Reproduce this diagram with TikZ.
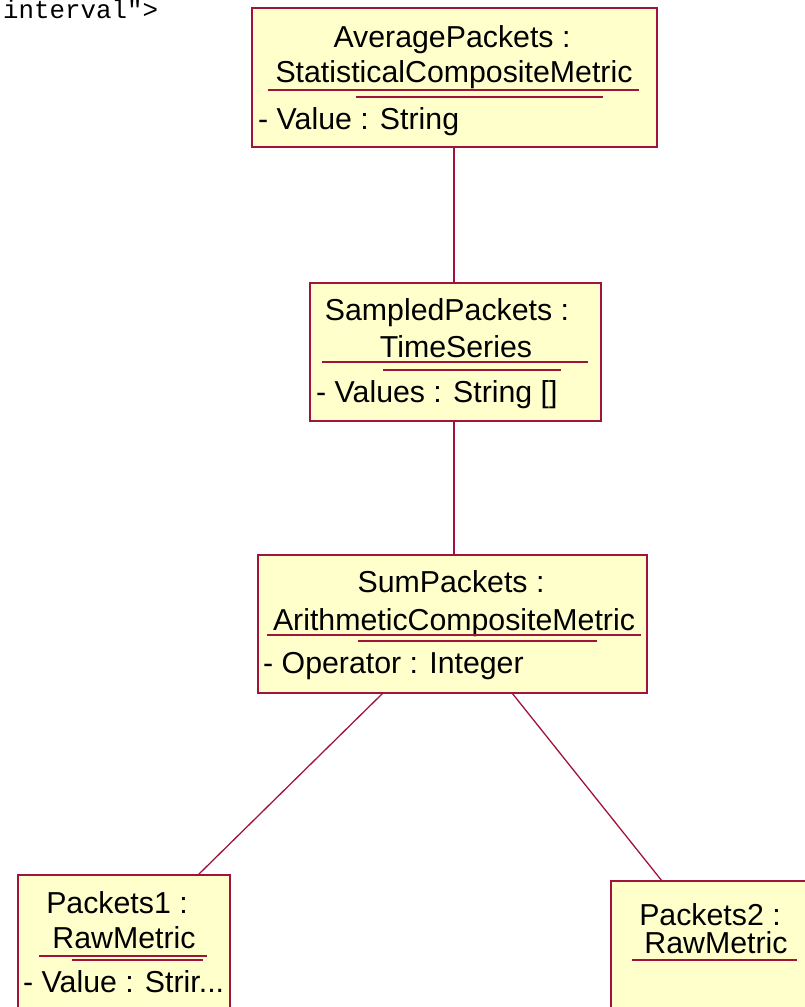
\documentclass[tikz,border=0pt]{standalone}
\usepackage{fontspec}
\setmainfont{Liberation Sans}
\setmonofont{Liberation Mono}
\usetikzlibrary{calc}
\definecolor{umlline}{RGB}{160,20,60}
\definecolor{umlfill}{RGB}{255,255,204}
\tikzset{
  objbox/.style={draw=umlline, fill=umlfill, line width=1.5pt},
  conn/.style={draw=umlline, line width=1.3pt},
  uline/.style={draw=umlline, line width=1.2pt},
  txt/.style={inner sep=0pt, anchor=base, font=\fontsize{30.3}{36}\selectfont},
  attr/.style={inner sep=0pt, anchor=base west, font=\fontsize{30.3}{36}\selectfont},
}
\begin{document}
\begin{tikzpicture}[x=1pt,y=-1pt]
\useasboundingbox (0,0) rectangle (805,1007);
\clip (0,0) rectangle (805,1007);
% stray text
\node[inner sep=0pt, anchor=base west, font=\ttfamily\fontsize{25.8}{30}\selectfont] (stray) at (3,18) {interval">};
% boxes
\path[objbox] (252,8) rectangle (657,147);
\coordinate (avgS) at (454,147);
\path[objbox] (310,283) rectangle (601,421);
\coordinate (sampN) at (454,283);
\coordinate (sampS) at (454,421);
\path[objbox] (258,555) rectangle (647,693);
\coordinate (sumN) at (454,555);
\coordinate (sumSL) at (383,693);
\coordinate (sumSR) at (512,693);
\path[objbox] (18,875) rectangle (230,1030);
\coordinate (p1N) at (198,875);
\path[objbox] (611,881) rectangle (830,1030);
\coordinate (p2N) at (662,881);
% connectors
\draw[conn] (avgS) -- (sampN);
\draw[conn] (sampS) -- (sumN);
\draw[conn] (sumSL) -- (p1N);
\draw[conn] (sumSR) -- (p2N);
% box 1 text
\node[txt] (a1) at (452,47) {AveragePackets :};
\node[txt] (a2) at (454,82) {StatisticalCompositeMetric};
\draw[uline] (268,90) -- (639,90);
\draw[uline] (356,97) -- (603,97);
\node[attr] (a3) at (258,129) {- Value : String};
% box 2 text
\node[txt] (b1) at (447,320) {SampledPackets :};
\node[txt] (b2) at (456,357) {TimeSeries};
\draw[uline] (322,362) -- (588,362);
\draw[uline] (383,370) -- (561,370);
\node[attr] (b3) at (316,402) {- Values : String []};
% box 3 text
\node[txt] (c1) at (451,592) {SumPackets :};
\node[txt] (c2) at (454,630) {ArithmeticCompositeMetric};
\draw[uline] (267,635) -- (641,635);
\draw[uline] (358,641) -- (597,641);
\node[attr] (c3) at (263,673) {- Operator : Integer};
% box 4 text
\node[txt] (d1) at (117,913) {Packets1 :};
\node[txt] (d2) at (124,948) {RawMetric};
\draw[uline] (39,956) -- (207,956);
\draw[uline] (72,960) -- (203,960);
\node[attr] (d3) at (23,992) {- Value : Strir...};
% box 5 text
\node[txt] (e1) at (710,925) {Packets2 :};
\node[txt] (e2) at (716,953) {RawMetric};
\draw[uline] (632,960) -- (797,960);
\end{tikzpicture}
\end{document}
